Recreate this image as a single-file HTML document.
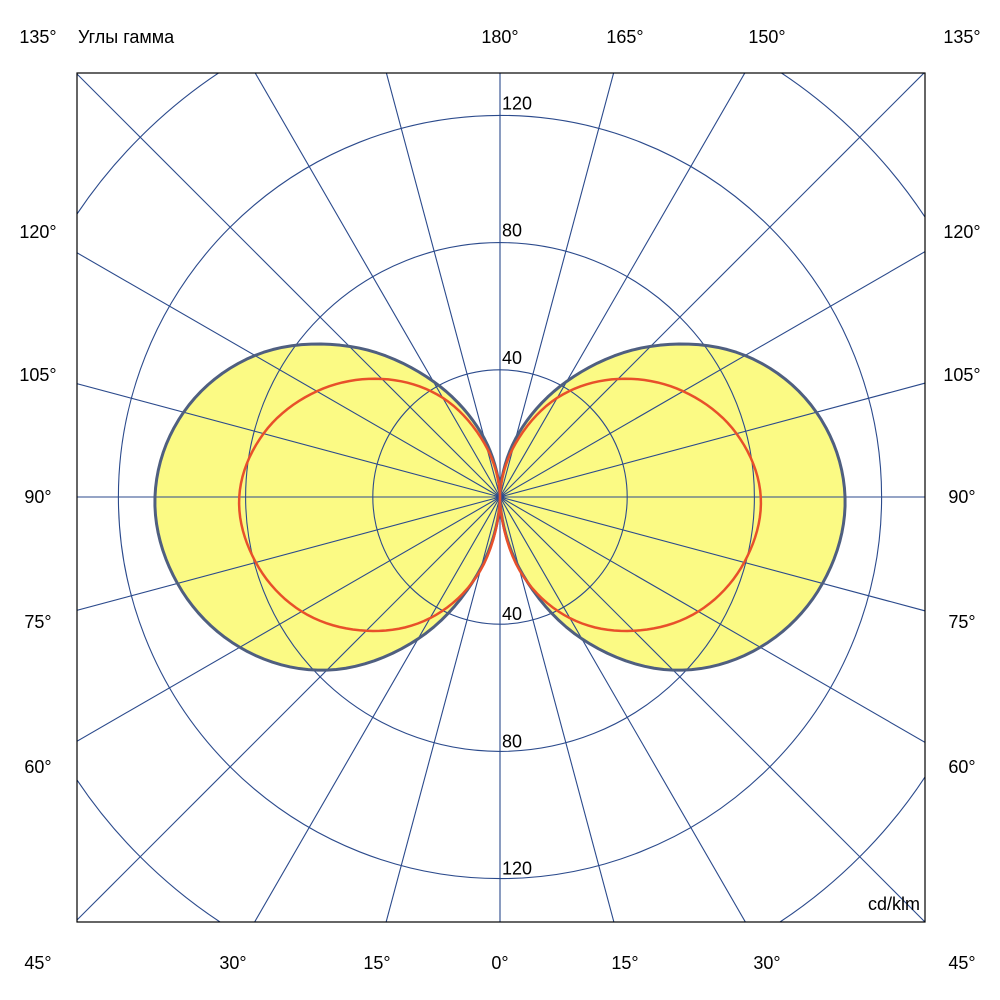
<!DOCTYPE html>
<html><head><meta charset="utf-8"><style>
html,body{margin:0;padding:0;background:#fff;width:1000px;height:1000px;overflow:hidden}
svg{display:block}
text{font-family:"Liberation Sans",sans-serif;font-size:18px;fill:#000}
</style></head><body>
<svg id="chart" width="1000" height="1000">
<defs><clipPath id="box"><rect x="77" y="73" width="848" height="849"/></clipPath></defs>
<g id="fills" clip-path="url(#box)"></g>
<g id="grid" clip-path="url(#box)"></g>
<g id="curves" clip-path="url(#box)"></g>
<rect x="77" y="73" width="848" height="849" fill="none" stroke="#000" stroke-width="1.2"/>
<g id="labels"></g>
</svg>
<script>
const gammaAngles=[0,15,30,45,60,75,90,105,120,135,150,165,180];
const yellowSeries=[0,23,51.5,77,94.5,105,108.5,103,89,67,42,19,0];
const redSeries=[0,24,44,59.5,72,79.5,82,77,66.5,52.5,36,16,0];
const ringValues=[40,80,120,160,200];
const ringLabels=["40","80","120"];
const rayAngles=[0,15,30,45,60,75,90,105,120,135,150,165,180,195,210,225,240,255,270,285,300,315,330,345];

const cx=500,cy=497,scale=3.18;
const NS="http://www.w3.org/2000/svg";
function mk(t,a,p){const e=document.createElementNS(NS,t);for(const k in a)e.setAttribute(k,a[k]);p.appendChild(e);return e;}
function rad(v){return v*scale;}
function pt(g,v,side){const a=g*Math.PI/180;const r=rad(v);return [cx+side*r*Math.sin(a),cy+r*Math.cos(a)];}
// smooth path: Catmull-Rom interpolation of r(gamma) in polar space (rendering only)
function polarPath(angles,vals,side){
 const pts=[];const n=angles.length;
 for(let i=0;i<n-1;i++){
  const v0=vals[Math.max(i-1,0)],v1=vals[i],v2=vals[i+1],v3=vals[Math.min(i+2,n-1)];
  for(let k=0;k<10;k++){const t=k/10;
   const v=0.5*((2*v1)+(-v0+v2)*t+(2*v0-5*v1+4*v2-v3)*t*t+(-v0+3*v1-3*v2+v3)*t*t*t);
   const g=angles[i]+(angles[i+1]-angles[i])*t;
   pts.push(pt(g,Math.max(v,0),side));}
 }
 pts.push(pt(angles[n-1],vals[n-1],side));
 return "M"+pts.map(p=>p[0].toFixed(2)+","+p[1].toFixed(2)).join(" L")+"Z";
}

const G=document.getElementById('grid'),F=document.getElementById('fills'),C=document.getElementById('curves'),L=document.getElementById('labels');
ringValues.forEach(v=>{const c=mk('circle',{cx:cx,cy:cy,r:rad(v),fill:'none',stroke:'#2b4a8c','stroke-width':1.1},G);

});
rayAngles.forEach(a=>{const t=a*Math.PI/180;const l=mk('line',{x1:cx,y1:cy,x2:cx+900*Math.sin(t),y2:cy+900*Math.cos(t),stroke:'#2b4a8c','stroke-width':1.1},G);

});

[1,-1].forEach(side=>{
 const yd=polarPath(gammaAngles,yellowSeries,side);
 const f=mk('path',{d:yd,fill:'#fbfa84',stroke:'none'},F);
 
 
 const s=mk('path',{d:yd,fill:'none',stroke:'#4f5f80','stroke-width':3,'stroke-linejoin':'round'},C);
 
 
 const r=mk('path',{d:polarPath(gammaAngles,redSeries,side),fill:'none',stroke:'#e8502a','stroke-width':2.5},C);
 
 
});

function txt(s,x,y,anchor,name){const t=mk('text',{x:x,y:y,'text-anchor':anchor||'middle'},L);t.textContent=s;

}
ringLabels.forEach(s=>{const v=+s;txt(s,502,cy-rad(v)-6,'start','ring-label-top-'+s);txt(s,502,cy+rad(v)-4,'start','ring-label-bottom-'+s);});
txt("135°",38,43,'middle','angle-label');txt("Углы гамма",78,43,'start','axis-title');
txt("180°",500,43,'middle','angle-label');txt("165°",625,43,'middle','angle-label');txt("150°",767,43,'middle','angle-label');txt("135°",962,43,'middle','angle-label');
[["120°",238],["105°",381],["90°",503],["75°",628],["60°",773]].forEach(p=>{txt(p[0],38,p[1],'middle','angle-label');txt(p[0],962,p[1],'middle','angle-label');});
[["45°",38],["30°",233],["15°",377],["0°",500],["15°",625],["30°",767],["45°",962]].forEach(p=>txt(p[0],p[1],969,'middle','angle-label'));
txt("cd/klm",920,910,'end','unit-label');
</script>
</body></html>
